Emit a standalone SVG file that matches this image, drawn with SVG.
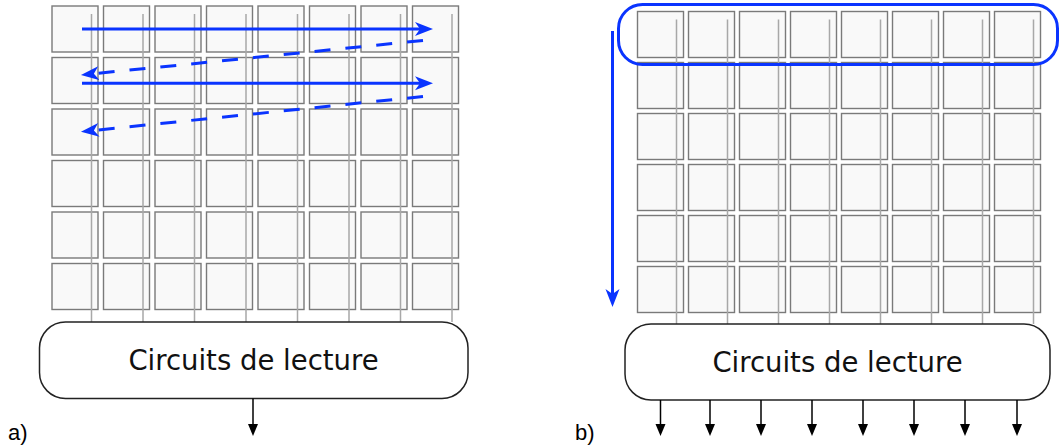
<svg xmlns="http://www.w3.org/2000/svg" width="1059" height="445" viewBox="0 0 1059 445">
<style>
.cell{fill:#f9f9f9;stroke:#7a7a7a;stroke-width:1.4}
.col{stroke:#a8a8a8;stroke-width:1.5;fill:none}
.box{fill:#ffffff;stroke:#222;stroke-width:1.5}
.lbl{font-family:"DejaVu Sans",sans-serif;font-size:27.5px;fill:#111;text-anchor:middle}
.tag{font-family:"Liberation Sans",Arial,sans-serif;font-size:22px;fill:#000}
.blue{stroke:#0a34ff;stroke-width:3;fill:none}
.dash{stroke-dasharray:16 15}
.out{stroke:#000;stroke-width:1.5;fill:none;marker-end:url(#ka)}
</style>
<defs>
<marker id="ba" markerUnits="userSpaceOnUse" markerWidth="20" markerHeight="16" refX="5" refY="7" orient="auto"><path d="M0,0 L18,7 L0,14 L5,7 z" fill="#0a34ff"/></marker>
<marker id="ka" markerUnits="userSpaceOnUse" markerWidth="14" markerHeight="12" refX="1" refY="5" orient="auto"><path d="M0,0 L12,5 L0,10 z" fill="#000"/></marker>
<rect id="c" class="cell" width="46" height="46"/>
</defs>
<g id="grid-a">
<g id="cells-a">
<use href="#c" x="52" y="6"/><use href="#c" x="103.5" y="6"/><use href="#c" x="155" y="6"/><use href="#c" x="206.5" y="6"/><use href="#c" x="258" y="6"/><use href="#c" x="309.5" y="6"/><use href="#c" x="361" y="6"/><use href="#c" x="412.5" y="6"/>
<use href="#c" x="52" y="57.5"/><use href="#c" x="103.5" y="57.5"/><use href="#c" x="155" y="57.5"/><use href="#c" x="206.5" y="57.5"/><use href="#c" x="258" y="57.5"/><use href="#c" x="309.5" y="57.5"/><use href="#c" x="361" y="57.5"/><use href="#c" x="412.5" y="57.5"/>
<use href="#c" x="52" y="109"/><use href="#c" x="103.5" y="109"/><use href="#c" x="155" y="109"/><use href="#c" x="206.5" y="109"/><use href="#c" x="258" y="109"/><use href="#c" x="309.5" y="109"/><use href="#c" x="361" y="109"/><use href="#c" x="412.5" y="109"/>
<use href="#c" x="52" y="160.5"/><use href="#c" x="103.5" y="160.5"/><use href="#c" x="155" y="160.5"/><use href="#c" x="206.5" y="160.5"/><use href="#c" x="258" y="160.5"/><use href="#c" x="309.5" y="160.5"/><use href="#c" x="361" y="160.5"/><use href="#c" x="412.5" y="160.5"/>
<use href="#c" x="52" y="212"/><use href="#c" x="103.5" y="212"/><use href="#c" x="155" y="212"/><use href="#c" x="206.5" y="212"/><use href="#c" x="258" y="212"/><use href="#c" x="309.5" y="212"/><use href="#c" x="361" y="212"/><use href="#c" x="412.5" y="212"/>
<use href="#c" x="52" y="263.5"/><use href="#c" x="103.5" y="263.5"/><use href="#c" x="155" y="263.5"/><use href="#c" x="206.5" y="263.5"/><use href="#c" x="258" y="263.5"/><use href="#c" x="309.5" y="263.5"/><use href="#c" x="361" y="263.5"/><use href="#c" x="412.5" y="263.5"/>
</g>
<g id="columns-a" class="col">
<path d="M91.5,14V322M143,14V322M194.5,14V322M246,14V322M297.5,14V322M349,14V322M400.5,14V322M452,14V322"/>
</g>
</g>
<g id="readout-a">
<rect class="box" x="39.5" y="322" width="428.5" height="76.5" rx="26"/>
<text class="lbl" x="253.5" y="369.5">Circuits de lecture</text>
</g>
<g id="grid-b">
<g id="cells-b">
<use href="#c" x="637.5" y="11.5"/><use href="#c" x="688.5" y="11.5"/><use href="#c" x="739.5" y="11.5"/><use href="#c" x="790.5" y="11.5"/><use href="#c" x="841.5" y="11.5"/><use href="#c" x="892.5" y="11.5"/><use href="#c" x="943.5" y="11.5"/><use href="#c" x="994.5" y="11.5"/>
<use href="#c" x="637.5" y="62.5"/><use href="#c" x="688.5" y="62.5"/><use href="#c" x="739.5" y="62.5"/><use href="#c" x="790.5" y="62.5"/><use href="#c" x="841.5" y="62.5"/><use href="#c" x="892.5" y="62.5"/><use href="#c" x="943.5" y="62.5"/><use href="#c" x="994.5" y="62.5"/>
<use href="#c" x="637.5" y="113.5"/><use href="#c" x="688.5" y="113.5"/><use href="#c" x="739.5" y="113.5"/><use href="#c" x="790.5" y="113.5"/><use href="#c" x="841.5" y="113.5"/><use href="#c" x="892.5" y="113.5"/><use href="#c" x="943.5" y="113.5"/><use href="#c" x="994.5" y="113.5"/>
<use href="#c" x="637.5" y="164.5"/><use href="#c" x="688.5" y="164.5"/><use href="#c" x="739.5" y="164.5"/><use href="#c" x="790.5" y="164.5"/><use href="#c" x="841.5" y="164.5"/><use href="#c" x="892.5" y="164.5"/><use href="#c" x="943.5" y="164.5"/><use href="#c" x="994.5" y="164.5"/>
<use href="#c" x="637.5" y="215.5"/><use href="#c" x="688.5" y="215.5"/><use href="#c" x="739.5" y="215.5"/><use href="#c" x="790.5" y="215.5"/><use href="#c" x="841.5" y="215.5"/><use href="#c" x="892.5" y="215.5"/><use href="#c" x="943.5" y="215.5"/><use href="#c" x="994.5" y="215.5"/>
<use href="#c" x="637.5" y="266.5"/><use href="#c" x="688.5" y="266.5"/><use href="#c" x="739.5" y="266.5"/><use href="#c" x="790.5" y="266.5"/><use href="#c" x="841.5" y="266.5"/><use href="#c" x="892.5" y="266.5"/><use href="#c" x="943.5" y="266.5"/><use href="#c" x="994.5" y="266.5"/>
</g>
<g id="columns-b" class="col">
<path d="M676.5,19.5V324M727.5,19.5V324M778.5,19.5V324M829.5,19.5V324M880.5,19.5V324M931.5,19.5V324M982.5,19.5V324M1033.5,19.5V324"/>
</g>
</g>
<g id="readout-b">
<rect class="box" x="625" y="324" width="425" height="76" rx="26"/>
<text class="lbl" x="837.5" y="371.5">Circuits de lecture</text>
</g>
<g id="row-select-b">
<rect class="blue" x="618.5" y="4.5" width="439" height="60" rx="24" stroke-width="2.6"/>
</g>
<g id="connectors">
<g id="scan-a">
<line class="blue" x1="82" y1="29" x2="420" y2="29" marker-end="url(#ba)"/>
<line class="blue dash" x1="423" y1="40.5" x2="93.9" y2="73.7" marker-end="url(#ba)"/>
<line class="blue" x1="82" y1="83.3" x2="420" y2="83.3" marker-end="url(#ba)"/>
<line class="blue dash" x1="423" y1="96.5" x2="93.9" y2="130.4" marker-end="url(#ba)"/>
</g>
<line id="scan-b" class="blue" x1="612.5" y1="31" x2="612.5" y2="294" marker-end="url(#ba)"/>
<line class="out" x1="253" y1="398.5" x2="253" y2="425"/>
<g id="outputs-b">
<line class="out" x1="660.5" y1="400" x2="660.5" y2="425"/>
<line class="out" x1="710" y1="400" x2="710" y2="425"/>
<line class="out" x1="761" y1="400" x2="761" y2="425"/>
<line class="out" x1="812" y1="400" x2="812" y2="425"/>
<line class="out" x1="863" y1="400" x2="863" y2="425"/>
<line class="out" x1="914" y1="400" x2="914" y2="425"/>
<line class="out" x1="965" y1="400" x2="965" y2="425"/>
<line class="out" x1="1017" y1="400" x2="1017" y2="425"/>
</g>
</g>
<text class="tag" x="8" y="440">a)</text>
<text class="tag" x="575" y="440">b)</text>
</svg>
